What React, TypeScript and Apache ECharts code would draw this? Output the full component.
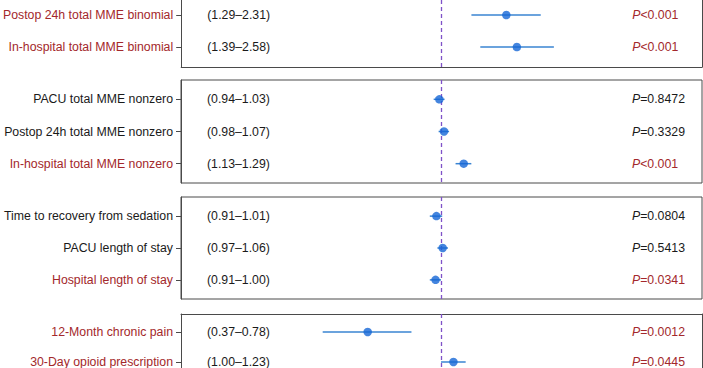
import React, { useEffect, useRef } from "react";
import * as echarts from "echarts";

// ---- Data ----
const outcomes = [
  "Postop 24h total MME binomial",
  "In-hospital total MME binomial",
  "PACU total MME nonzero",
  "Postop 24h total MME nonzero",
  "In-hospital total MME nonzero",
  "Time to recovery from sedation",
  "PACU length of stay",
  "Hospital length of stay",
  "12-Month chronic pain",
  "30-Day opioid prescription",
];
const estimates = [1.73, 1.89, 0.986, 1.025, 1.21, 0.962, 1.014, 0.955, 0.54, 1.11];
const lowers = [1.29, 1.39, 0.94, 0.98, 1.13, 0.91, 0.97, 0.91, 0.37, 1.0];
const uppers = [2.31, 2.58, 1.03, 1.07, 1.29, 1.01, 1.06, 1.0, 0.78, 1.23];
const ciLabels = [
  "(1.29–2.31)",
  "(1.39–2.58)",
  "(0.94–1.03)",
  "(0.98–1.07)",
  "(1.13–1.29)",
  "(0.91–1.01)",
  "(0.97–1.06)",
  "(0.91–1.00)",
  "(0.37–0.78)",
  "(1.00–1.23)",
];
const pValues = ["<0.001", "<0.001", "=0.8472", "=0.3329", "<0.001", "=0.0804", "=0.5413", "=0.0341", "=0.0012", "=0.0445"];
const significant = [true, true, false, false, true, false, false, true, true, true];
const panelOf = [0, 0, 1, 1, 1, 2, 2, 2, 3, 3];

// ---- Layout (not data) ----
const panelLayout = [
  { top: 0, height: 67, yMin: -0.469, yMax: 1.625, edge: "bottom" },
  { top: 80, height: 103, yMin: -0.6, yMax: 2.6, edge: "box" },
  { top: 197, height: 102, yMin: -0.6, yMax: 2.6, edge: "box" },
  { top: 314, height: 54, yMin: -0.6, yMax: 1.2, edge: "top" },
];

const RED = "#a3282b";
const BLACK = "#1a1a1a";
const BORDER = "#4a4a4a";
const FONT = "'Liberation Sans', Arial, sans-serif";
const FS = 12.3;

export default function App() {
  const ref = useRef<HTMLDivElement>(null);
  useEffect(() => {
    if (!ref.current) return;
    const chart = echarts.init(ref.current, undefined, { renderer: "svg" });

    const grids: any[] = [];
    const xAxes: any[] = [];
    const yAxes: any[] = [];
    const series: any[] = [];

    panelLayout.forEach((lay, p) => {
      const idx = outcomes.map((_, i) => i).filter((i) => panelOf[i] === p);
      const rows = idx.map((_, k) => k);
      const isBox = lay.edge === "box";
      grids.push({
        left: 181,
        right: 1,
        top: lay.top,
        height: lay.height,
        show: isBox,
        borderColor: BORDER,
        borderWidth: 1,
        backgroundColor: "transparent",
      });
      xAxes.push({
        type: "log",
        logBase: 10,
        gridIndex: p,
        min: 0.1125,
        max: 8.96,
        position: isBox ? "bottom" : lay.edge,
        axisLine: { show: !isBox, onZero: false, lineStyle: { color: BORDER, width: 1 } },
        axisTick: { show: false },
        axisLabel: { show: false },
        splitLine: { show: false },
      });
      const baseY = {
        type: "value",
        gridIndex: p,
        inverse: true,
        min: lay.yMin,
        max: lay.yMax,
        position: "left",
        splitLine: { show: false },
      };
      const mainY = yAxes.length;
      yAxes.push({
        ...baseY,
        axisLine: { show: true, onZero: false, lineStyle: { color: BORDER, width: 1 } },
        axisTick: { show: true, length: 5, customValues: rows, lineStyle: { color: BORDER } },
        axisLabel: {
          show: true,
          margin: 8,
          customValues: rows,
          fontFamily: FONT,
          fontSize: FS,
          formatter: (v: number) => {
            const i = idx[Math.round(v)];
            if (i === undefined) return "";
            return `{${significant[i] ? "r" : "b"}|${outcomes[i]}}`;
          },
          rich: {
            r: { color: RED, fontFamily: FONT, fontSize: FS },
            b: { color: BLACK, fontFamily: FONT, fontSize: FS },
          },
        },
      });
      yAxes.push({
        ...baseY,
        axisLine: { show: false, onZero: false },
        axisTick: { show: false },
        axisLabel: {
          show: true,
          inside: true,
          margin: 26,
          customValues: rows,
          color: BLACK,
          fontFamily: FONT,
          fontSize: FS,
          formatter: (v: number) => {
            const i = idx[Math.round(v)];
            return i === undefined ? "" : ciLabels[i];
          },
        },
      });
      yAxes.push({
        ...baseY,
        axisLine: { show: false, onZero: false },
        axisTick: { show: false },
        axisLabel: {
          show: true,
          inside: true,
          margin: 451,
          customValues: rows,
          fontFamily: FONT,
          fontSize: FS,
          formatter: (v: number) => {
            const i = idx[Math.round(v)];
            if (i === undefined) return "";
            const c = significant[i] ? "r" : "b";
            return `{${c}i|P}{${c}|${pValues[i]}}`;
          },
          rich: {
            ri: { color: RED, fontStyle: "italic", fontFamily: FONT, fontSize: FS },
            r: { color: RED, fontFamily: FONT, fontSize: FS },
            bi: { color: BLACK, fontStyle: "italic", fontFamily: FONT, fontSize: FS },
            b: { color: BLACK, fontFamily: FONT, fontSize: FS },
          },
        },
      });
      if (!isBox) {
        yAxes.push({
          ...baseY,
          position: "right",
          axisLine: { show: true, onZero: false, lineStyle: { color: BORDER, width: 1 } },
          axisTick: { show: false },
          axisLabel: { show: false },
        });
      }

      series.push({
        type: "custom",
        xAxisIndex: p,
        yAxisIndex: mainY,
        data: idx.map((i, k) => [lowers[i], uppers[i], k]),
        encode: { x: [0, 1], y: 2 },
        renderItem: (_params: any, api: any) => {
          const a = api.coord([api.value(0), api.value(2)]);
          const b = api.coord([api.value(1), api.value(2)]);
          return {
            type: "line",
            shape: { x1: a[0], y1: a[1], x2: b[0], y2: b[1] },
            style: { stroke: "#3a84d2", lineWidth: 1.5 },
          };
        },
        silent: true,
      });
      series.push({
        type: "scatter",
        xAxisIndex: p,
        yAxisIndex: mainY,
        data: idx.map((i, k) => [estimates[i], k]),
        symbol: "circle",
        symbolSize: 8.5,
        itemStyle: { color: "#1566d6" },
        silent: true,
        z: 5,
        markLine: {
          silent: true,
          symbol: "none",
          label: { show: false },
          lineStyle: { color: "#7f52c8", type: [4, 3], width: 1.3, opacity: 1 },
          emphasis: { disabled: true },
          data: [{ xAxis: 1 }],
        },
      });
    });

    chart.setOption({
      animation: false,
      backgroundColor: "#ffffff",
      textStyle: { fontFamily: FONT },
      grid: grids,
      xAxis: xAxes,
      yAxis: yAxes,
      series,
    });
    return () => chart.dispose();
  }, []);
  return (
    <div
      ref={ref}
      style={{ position: "fixed", left: 0, top: 0, width: 703, height: 368, background: "#fff" }}
    />
  );
}
